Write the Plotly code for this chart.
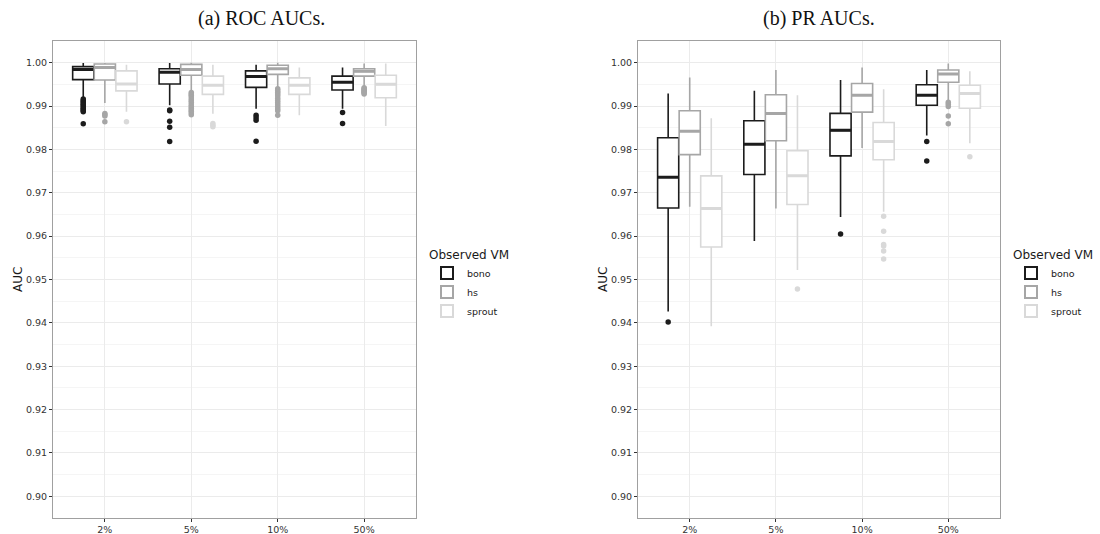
import plotly.graph_objects as go

categories = ["2%", "5%", "10%", "50%"]
series = ["bono", "hs", "sprout"]
colors = {"bono": "#1c1c1c", "hs": "#a6a6a6", "sprout": "#d9d9d9"}
y_ticks = [0.90, 0.91, 0.92, 0.93, 0.94, 0.95, 0.96, 0.97, 0.98, 0.99, 1.00]

# ---- (a) ROC AUCs ----
roc_bono_hi = [0.9999, 0.9999, 0.9995, 0.9989]
roc_bono_q3 = [0.9991, 0.9986, 0.9981, 0.9969]
roc_bono_med = [0.9984, 0.9978, 0.9968, 0.9955]
roc_bono_q1 = [0.9961, 0.9951, 0.9943, 0.9937]
roc_bono_lo = [0.9919, 0.9902, 0.9894, 0.9894]
roc_bono_out = [[0.9916, 0.9913, 0.9910, 0.9907, 0.9904, 0.9901, 0.9898, 0.9895, 0.9892, 0.9889, 0.9887, 0.9859],
                [0.9891, 0.9889, 0.9865, 0.9851, 0.9818],
                [0.9879, 0.9873, 0.9867, 0.9819],
                [0.9885, 0.9860]]

roc_hs_hi = [0.9999, 1.0000, 1.0000, 0.9998]
roc_hs_q3 = [0.9997, 0.9996, 0.9994, 0.9986]
roc_hs_med = [0.9989, 0.9984, 0.9986, 0.9980]
roc_hs_q1 = [0.9960, 0.9971, 0.9973, 0.9969]
roc_hs_lo = [0.9907, 0.9936, 0.9944, 0.9944]
roc_hs_out = [[0.9883, 0.9880, 0.9877, 0.9864],
              [0.9931, 0.9928, 0.9925, 0.9921, 0.9916, 0.9912, 0.9908, 0.9903, 0.9899, 0.9895, 0.9891, 0.9888, 0.9884, 0.9880],
              [0.9940, 0.9936, 0.9932, 0.9928, 0.9924, 0.9918, 0.9913, 0.9908, 0.9903, 0.9898, 0.9893, 0.9889, 0.9879],
              [0.9942, 0.9940, 0.9938, 0.9936, 0.9934, 0.9932, 0.9930, 0.9928]]

roc_sprout_hi = [0.9995, 0.9995, 0.9989, 0.9998]
roc_sprout_q3 = [0.9981, 0.9969, 0.9965, 0.9971]
roc_sprout_med = [0.9951, 0.9948, 0.9948, 0.9950]
roc_sprout_q1 = [0.9935, 0.9927, 0.9927, 0.9919]
roc_sprout_lo = [0.9887, 0.9882, 0.9879, 0.9854]
roc_sprout_out = [[0.9864], [0.9860, 0.9856, 0.9852], [], []]

# ---- (b) PR AUCs ----
pr_bono_hi = [0.9929, 0.9935, 0.9960, 0.9983]
pr_bono_q3 = [0.9827, 0.9866, 0.9883, 0.9949]
pr_bono_med = [0.9736, 0.9812, 0.9844, 0.9925]
pr_bono_q1 = [0.9665, 0.9742, 0.9785, 0.9902]
pr_bono_lo = [0.9426, 0.9589, 0.9644, 0.9832]
pr_bono_out = [[0.9402], [], [0.9605], [0.9818, 0.9773]]

pr_hs_hi = [0.9966, 0.9983, 0.9989, 0.9998]
pr_hs_q3 = [0.9889, 0.9926, 0.9952, 0.9983]
pr_hs_med = [0.9842, 0.9883, 0.9925, 0.9974]
pr_hs_q1 = [0.9788, 0.9820, 0.9886, 0.9955]
pr_hs_lo = [0.9668, 0.9664, 0.9803, 0.9914]
pr_hs_out = [[], [], [], [0.9909, 0.9904, 0.9899, 0.9877, 0.9859]]

pr_sprout_hi = [0.9872, 0.9925, 0.9939, 0.9980]
pr_sprout_q3 = [0.9739, 0.9797, 0.9862, 0.9948]
pr_sprout_med = [0.9664, 0.9739, 0.9818, 0.9929]
pr_sprout_q1 = [0.9575, 0.9673, 0.9776, 0.9895]
pr_sprout_lo = [0.9392, 0.9522, 0.9656, 0.9814]
pr_sprout_out = [[], [0.9478], [0.9646, 0.9611, 0.9581, 0.9577, 0.9566, 0.9547], [0.9783]]

panels = [
    {
        "bono": (roc_bono_lo, roc_bono_q1, roc_bono_med, roc_bono_q3, roc_bono_hi, roc_bono_out),
        "hs": (roc_hs_lo, roc_hs_q1, roc_hs_med, roc_hs_q3, roc_hs_hi, roc_hs_out),
        "sprout": (roc_sprout_lo, roc_sprout_q1, roc_sprout_med, roc_sprout_q3, roc_sprout_hi, roc_sprout_out),
    },
    {
        "bono": (pr_bono_lo, pr_bono_q1, pr_bono_med, pr_bono_q3, pr_bono_hi, pr_bono_out),
        "hs": (pr_hs_lo, pr_hs_q1, pr_hs_med, pr_hs_q3, pr_hs_hi, pr_hs_out),
        "sprout": (pr_sprout_lo, pr_sprout_q1, pr_sprout_med, pr_sprout_q3, pr_sprout_hi, pr_sprout_out),
    },
]

dodge = {"bono": -0.25, "hs": 0.0, "sprout": 0.25}
box_w = 0.245

fig = go.Figure()
for p, data in enumerate(panels):
    xa = "x" if p == 0 else "x2"
    ya = "y" if p == 0 else "y2"
    leg = "legend" if p == 0 else "legend2"
    for s in series:
        lo, q1, med, q3, hi, out = data[s]
        xs = [i + 1 + dodge[s] for i in range(len(categories))]
        fig.add_trace(go.Box(
            x=xs, q1=q1, median=med, q3=q3, lowerfence=lo, upperfence=hi,
            width=box_w, whiskerwidth=0, boxpoints=False,
            line=dict(color=colors[s], width=1.6), fillcolor="white",
            name=s, legend=leg, xaxis=xa, yaxis=ya, showlegend=True,
        ))
        # thicker median bar
        fig.add_trace(go.Box(
            x=xs, q1=med, median=med, q3=med, lowerfence=med, upperfence=med,
            width=box_w, whiskerwidth=0, boxpoints=False,
            line=dict(color=colors[s], width=3), fillcolor="rgba(0,0,0,0)",
            name=s, legend=leg, xaxis=xa, yaxis=ya, showlegend=False, hoverinfo="skip",
        ))
        ox, oy = [], []
        for i, vals in enumerate(out):
            for v in vals:
                ox.append(i + 1 + dodge[s])
                oy.append(v)
        fig.add_trace(go.Scatter(
            x=ox, y=oy, mode="markers",
            marker=dict(color=colors[s], size=5.5),
            xaxis=xa, yaxis=ya, showlegend=False, legend=leg, name=s,
        ))

ydom = [1 - 518 / 534, 1 - 41 / 534]
xaxis_common = dict(
    range=[0.4, 4.6], tickvals=[1, 2, 3, 4], ticktext=categories,
    showgrid=True, gridcolor="#ebebeb", gridwidth=1, zeroline=False,
    ticks="outside", ticklen=3, tickcolor="#333333", tickwidth=1,
    showline=True, linecolor="#a0a0a0", linewidth=1, mirror=True,
    tickfont=dict(family="DejaVu Sans", size=9.5, color="#333333"),
)
yaxis_common = dict(
    range=[0.895, 1.005], tickvals=y_ticks, tickformat=".2f",
    showgrid=True, gridcolor="#ebebeb", gridwidth=1, zeroline=False,
    minor=dict(dtick=0.005, tick0=0.895, showgrid=True, gridcolor="#f5f5f5", gridwidth=1),
    ticks="outside", ticklen=3, tickcolor="#333333", tickwidth=1,
    showline=True, linecolor="#a0a0a0", linewidth=1, mirror=True,
    tickfont=dict(family="DejaVu Sans", size=9.5, color="#333333"),
)

legend_common = dict(
    title=dict(text="Observed VM", font=dict(family="DejaVu Sans", size=12, color="#1a1a1a")),
    font=dict(family="DejaVu Sans", size=9.5, color="#1a1a1a"),
    xanchor="left", yanchor="top", bgcolor="rgba(0,0,0,0)", tracegroupgap=0,
    itemsizing="constant", itemwidth=30,
)

ann_font = dict(family="Liberation Serif", size=20, color="#111111")
fig.update_layout(
    width=1100, height=534,
    margin=dict(l=0, r=0, t=0, b=0),
    paper_bgcolor="white", plot_bgcolor="white",
    xaxis=dict(domain=[53 / 1100, 416 / 1100], anchor="y", **xaxis_common),
    yaxis=dict(domain=ydom, anchor="x", **yaxis_common),
    xaxis2=dict(domain=[638 / 1100, 1000 / 1100], anchor="y2", **xaxis_common),
    yaxis2=dict(domain=ydom, anchor="x2", **yaxis_common),
    legend=dict(x=427 / 1100, y=1 - 243 / 534, **legend_common),
    legend2=dict(x=1011 / 1100, y=1 - 243 / 534, **legend_common),
    showlegend=True,
    annotations=[
        dict(text="(a) ROC AUCs.", x=261 / 1100, y=1 - 19 / 534, xref="paper", yref="paper",
             xanchor="center", yanchor="middle", showarrow=False, font=ann_font),
        dict(text="(b) PR AUCs.", x=819 / 1100, y=1 - 19 / 534, xref="paper", yref="paper",
             xanchor="center", yanchor="middle", showarrow=False, font=ann_font),
        dict(text="AUC", x=18 / 1100, y=1 - 280 / 534, xref="paper", yref="paper", textangle=-90,
             xanchor="center", yanchor="middle", showarrow=False,
             font=dict(family="DejaVu Sans", size=12, color="#1a1a1a")),
        dict(text="AUC", x=603 / 1100, y=1 - 280 / 534, xref="paper", yref="paper", textangle=-90,
             xanchor="center", yanchor="middle", showarrow=False,
             font=dict(family="DejaVu Sans", size=12, color="#1a1a1a")),
    ],
)

fig.write_html("out.html", config={"displayModeBar": False},
               post_script="document.body.style.margin='0px';document.body.style.padding='0px';")
